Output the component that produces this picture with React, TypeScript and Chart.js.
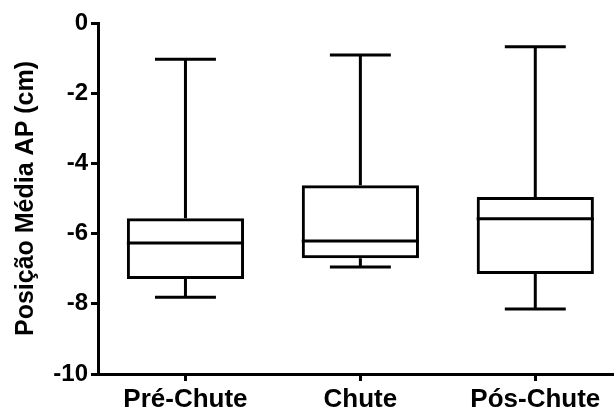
import React, { useEffect, useRef } from "react";
import { Chart, registerables } from "chart.js";

Chart.register(...registerables);

const categories = ["Pré-Chute", "Chute", "Pós-Chute"];
const whiskerMax = [-1.03, -0.91, -0.68];
const q3Values = [-5.56, -4.62, -4.96];
const medianValues = [-6.27, -6.21, -5.58];
const q1Values = [-7.29, -6.7, -7.15];
const whiskerMin = [-7.81, -6.95, -8.15];
const yTicks = [0, -2, -4, -6, -8, -10];

const FONT = "'Liberation Sans', Arial, Helvetica, sans-serif";

const boxPlugin = {
  id: "boxWhiskers",
  afterDatasetsDraw(chart: any) {
    const ctx = chart.ctx;
    const x = chart.scales.x;
    const y = chart.scales.y;
    const meta = chart.getDatasetMeta(0);
    ctx.save();
    ctx.strokeStyle = "#000";
    ctx.lineWidth = 3;
    ctx.lineCap = "butt";
    categories.forEach((_, i) => {
      const cx = x.getPixelForValue(i);
      const bar = meta.data[i];
      const w = bar ? bar.width : 117;
      const cap = w * 0.26;
      const pMax = y.getPixelForValue(whiskerMax[i]);
      const pQ3 = y.getPixelForValue(q3Values[i]);
      const pMed = y.getPixelForValue(medianValues[i]);
      const pQ1 = y.getPixelForValue(q1Values[i]);
      const pMin = y.getPixelForValue(whiskerMin[i]);
      ctx.beginPath();
      ctx.moveTo(cx - w / 2, pMed);
      ctx.lineTo(cx + w / 2, pMed);
      ctx.moveTo(cx, pQ3);
      ctx.lineTo(cx, pMax);
      ctx.moveTo(cx - cap, pMax);
      ctx.lineTo(cx + cap, pMax);
      ctx.moveTo(cx, pQ1);
      ctx.lineTo(cx, pMin);
      ctx.moveTo(cx - cap, pMin);
      ctx.lineTo(cx + cap, pMin);
      ctx.stroke();
    });
    ctx.restore();
  },
};

export default function App() {
  const ref = useRef<HTMLCanvasElement>(null);
  useEffect(() => {
    if (!ref.current) return;
    const chart = new Chart(ref.current, {
      type: "bar",
      data: {
        datasets: [
          {
            data: categories.map((_, i) => ({ x: i, y: [q1Values[i], q3Values[i]] })) as any,
            backgroundColor: "rgba(0,0,0,0)",
            borderColor: "#000",
            borderWidth: 3,
            borderSkipped: false,
            barPercentage: 0.67,
            categoryPercentage: 1,
          },
        ],
      },
      options: {
        responsive: false,
        animation: false,
        devicePixelRatio: 1,
        layout: { padding: { top: 23, right: 0, left: 0, bottom: 0 } },
        plugins: { legend: { display: false }, tooltip: { enabled: false } },
        scales: {
          x: {
            type: "linear",
            min: -0.5,
            max: 2.45,
            offset: false,
            afterBuildTicks: (scale: any) => {
              scale.ticks = categories.map((_, i) => ({ value: i }));
            },
            afterFit: (scale: any) => {
              scale.height = 40;
            },
            grid: {
              offset: false,
              drawOnChartArea: false,
              drawTicks: true,
              tickLength: 7,
              color: "#000",
              lineWidth: 3,
            },
            border: { color: "#000", width: 3 },
            ticks: {
              autoSkip: false,
              maxRotation: 0,
              padding: 3,
              color: "#000",
              font: { family: FONT, size: 26, weight: "bold" },
              callback: (v: any) => categories[v as number] ?? "",
            },
          },
          y: {
            type: "linear",
            min: -10,
            max: 0,
            afterBuildTicks: (scale: any) => {
              scale.ticks = yTicks.map((v) => ({ value: v }));
            },
            afterFit: (scale: any) => {
              scale.width = 98;
            },
            grid: {
              drawOnChartArea: false,
              drawTicks: true,
              tickLength: 7,
              color: "#000",
              lineWidth: 3,
            },
            border: { color: "#000", width: 3 },
            ticks: {
              padding: 3,
              color: "#000",
              font: { family: FONT, size: 24, weight: "bold" },
            },
            title: {
              display: true,
              text: "Posição Média AP (cm)",
              color: "#000",
              padding: { top: 11, bottom: 0 },
              font: { family: FONT, size: 25, weight: "bold" },
            },
          },
        },
      },
      plugins: [boxPlugin],
    });
    return () => chart.destroy();
  }, []);
  return (
    <div style={{ position: "fixed", left: 0, top: 0, width: 614, height: 414, background: "#fff" }}>
      <canvas ref={ref} width={614} height={414} style={{ display: "block" }} />
    </div>
  );
}
